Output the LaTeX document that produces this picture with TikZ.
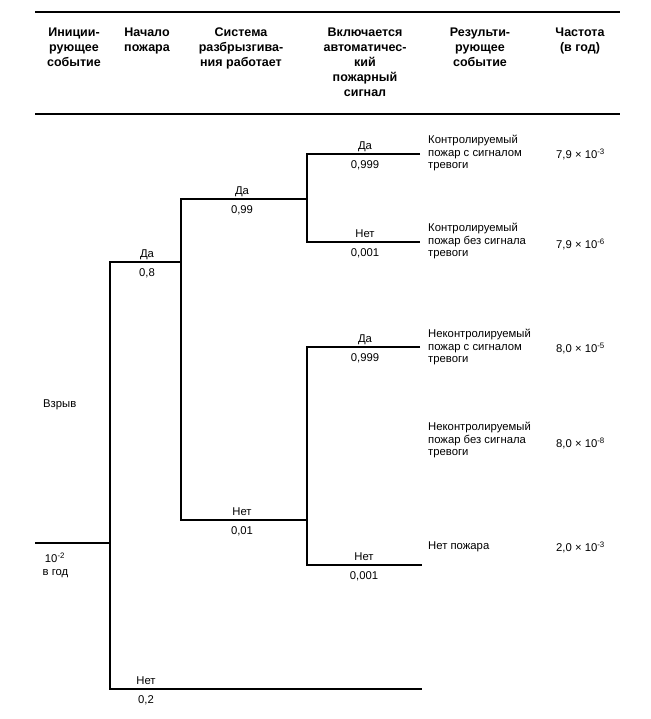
\documentclass[tikz,border=0pt]{standalone}
\usepackage{fontspec}
\setmainfont{Liberation Sans}
\begin{document}
\begin{tikzpicture}[x=1pt,y=-1pt,
  branch/.style={draw=black, line width=1.4pt},
  rulebar/.style={draw=black, line width=1.8pt},
  head/.style={font=\fontsize{12.5}{15}\selectfont\bfseries, align=center, anchor=north, inner sep=0pt},
  lbl/.style={font=\fontsize{11.3}{13}\selectfont, inner sep=0pt, anchor=base},
  res/.style={font=\fontsize{11.3}{12.8}\selectfont, align=left, anchor=west, inner sep=0pt},
  freq/.style={font=\fontsize{11.3}{13}\selectfont, inner sep=0pt, anchor=base west}]
\useasboundingbox (0,0) rectangle (650,719);
% header rules
\coordinate (rtl) at (35,12);
\coordinate (rtr) at (620,12);
\coordinate (rbl) at (35,114);
\coordinate (rbr) at (620,114);
\draw[rulebar] (rtl) -- (rtr);
\draw[rulebar] (rbl) -- (rbr);
% header texts
\node[head] (h1) at (74,27.5) {Иниции-\\рующее\\событие};
\node[head] (h2) at (147,27.5) {Начало\\пожара};
\node[head] (h3) at (241,27.5) {Система\\разбрызгива-\\ния работает};
\node[head] (h4) at (365,27.5) {Включается\\автоматичес-\\кий\\пожарный\\сигнал};
\node[head] (h5) at (480,27.5) {Результи-\\рующее\\событие};
\node[head] (h6) at (580,27.5) {Частота\\(в год)};
% tree points
\coordinate (i0) at (35,543);
\coordinate (i1) at (110,543);
\coordinate (f1) at (110,262);
\coordinate (f2) at (110,689);
\coordinate (f1e) at (181,262);
\coordinate (f2e) at (422,689);
\coordinate (s1) at (181,199);
\coordinate (s2) at (181,520);
\coordinate (s1e) at (307,199);
\coordinate (s2e) at (307,520);
\coordinate (a1) at (307,154);
\coordinate (a2) at (307,242);
\coordinate (a3) at (307,347);
\coordinate (a4) at (307,565);
\coordinate (a1e) at (420,154);
\coordinate (a2e) at (420,242);
\coordinate (a3e) at (420,347);
\coordinate (a4e) at (422,565);
% branches
\draw[branch] (i0) -- (i1);
\draw[branch] (f1e) -- (f1) -- (f2) -- (f2e);
\draw[branch] (s1e) -- (s1) -- (s2) -- (s2e);
\draw[branch] (a1e) -- (a1) -- (a2) -- (a2e);
\draw[branch] (a3e) -- (a3) -- (a4) -- (a4e);
% initiating event
\node[lbl, anchor=base west] (ev) at (43,407) {Взрыв};
\node[lbl] (evf) at (55,562) {10\textsuperscript{-2}};
\node[lbl] (evu) at (55.5,575) {в год};
% branch labels
\node[lbl] (l1a) at (147,257.5) {Да};
\node[lbl] (l1b) at (147,276.5) {0,8};
\node[lbl] (l2a) at (146,684) {Нет};
\node[lbl] (l2b) at (146,703) {0,2};
\node[lbl] (l3a) at (242,194.5) {Да};
\node[lbl] (l3b) at (242,213.5) {0,99};
\node[lbl] (l4a) at (242,515.5) {Нет};
\node[lbl] (l4b) at (242,534.5) {0,01};
\node[lbl] (l5a) at (365,149.5) {Да};
\node[lbl] (l5b) at (365,168.5) {0,999};
\node[lbl] (l6a) at (365,237.5) {Нет};
\node[lbl] (l6b) at (365,256.5) {0,001};
\node[lbl] (l7a) at (365,342.5) {Да};
\node[lbl] (l7b) at (365,361.5) {0,999};
\node[lbl] (l8a) at (364,560.5) {Нет};
\node[lbl] (l8b) at (364,579.5) {0,001};
% results
\node[res] (r1) at (428,153) {Контролируемый\\пожар с сигналом\\тревоги};
\node[res] (r2) at (428,241) {Контролируемый\\пожар без сигнала\\тревоги};
\node[res] (r3) at (428,347) {Неконтролируемый\\пожар с сигналом\\тревоги};
\node[res] (r4) at (428,440) {Неконтролируемый\\пожар без сигнала\\тревоги};
\node[freq] (r5) at (428,549.5) {Нет пожара};
% frequencies
\node[freq] (q1) at (556,158.5) {7,9 × 10\textsuperscript{-3}};
\node[freq] (q2) at (556,248) {7,9 × 10\textsuperscript{-6}};
\node[freq] (q3) at (556,352) {8,0 × 10\textsuperscript{-5}};
\node[freq] (q4) at (556,447) {8,0 × 10\textsuperscript{-8}};
\node[freq] (q5) at (556,551) {2,0 × 10\textsuperscript{-3}};
\end{tikzpicture}
\end{document}
